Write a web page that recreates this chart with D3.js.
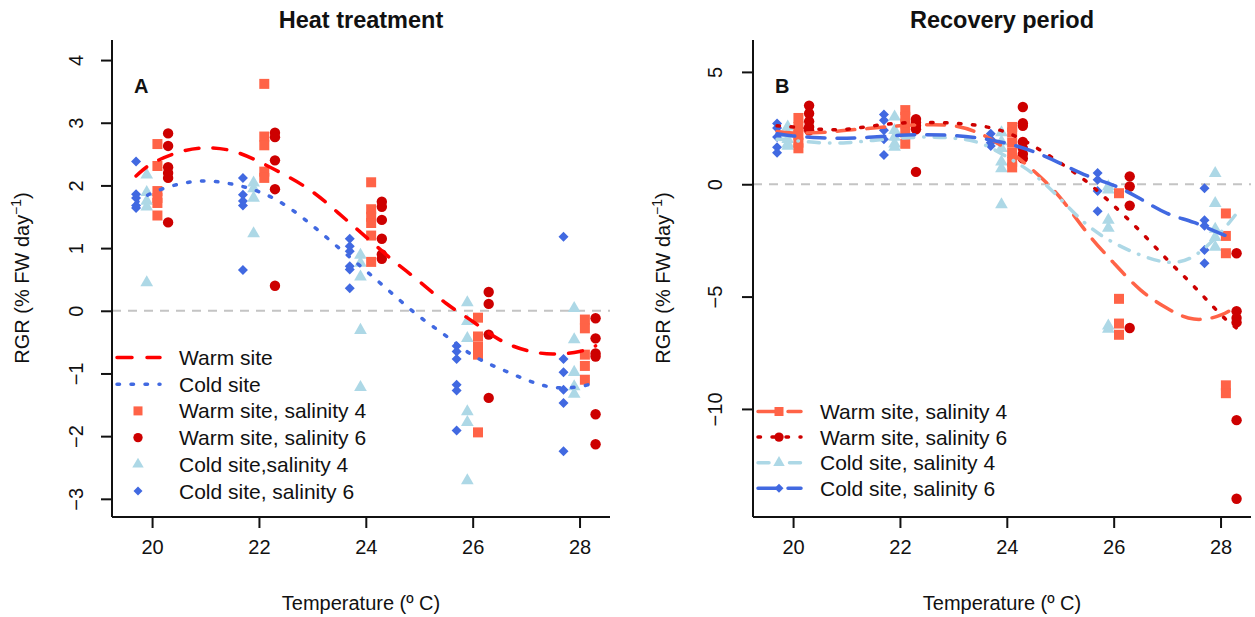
<!DOCTYPE html>
<html>
<head>
<meta charset="utf-8">
<script src="https://cdn.jsdelivr.net/npm/d3@7"></script>
<style>
  body { margin: 0; background: #fff; }
  svg { font-family: 'Liberation Sans', Arial, sans-serif; }
</style>
</head>
<body>
<div id="chart"></div>
<script>
// temperatures of the treatments
const temps = [20, 22, 24, 26, 28];
// temperature grid for the fitted curves
const fitTemps = [19.7, 20, 20.5, 21, 21.5, 22, 22.5, 23, 23.5, 24, 24.5, 25, 25.5, 26, 26.5, 27, 27.5, 28, 28.3];

// Heat treatment (panel A), one sub-array per temperature
const heatWarm4 = [[2.66, 2.31, 1.91, 1.80, 1.72, 1.52], [3.62, 2.78, 2.64, 2.22, 2.12], [2.05, 1.62, 1.50, 1.40, 1.20, 0.78], [-0.11, -0.41, -0.57, -0.70, -1.94], [-0.14, -0.28, -0.70, -0.88, -1.10]];
const heatWarm6 = [[2.83, 2.63, 2.29, 2.20, 2.12, 1.41], [2.84, 2.77, 2.40, 1.94, 0.40], [1.74, 1.66, 1.45, 1.15, 0.90, 0.83], [0.30, 0.11, -0.38, -1.39], [-0.12, -0.44, -0.68, -0.73, -1.65, -2.13]];
const heatCold4 = [[2.17, 1.89, 1.75, 1.66, 0.45], [2.04, 1.95, 1.80, 1.23], [0.89, 0.76, 0.54, -0.31, -1.22], [0.13, -0.17, -0.44, -1.61, -1.78, -2.71], [0.04, -0.46, -0.98, -1.21, -1.33]];
const heatCold6 = [[2.38, 1.86, 1.80, 1.68, 1.64], [2.12, 1.85, 1.75, 1.68, 0.65], [1.15, 1.03, 0.95, 0.71, 0.66, 0.36], [-0.56, -0.65, -0.77, -1.18, -1.27, -1.91], [1.18, -0.77, -0.98, -1.26, -1.47, -2.24]];
const heatFitWarm = [2.15, 2.35, 2.53, 2.60, 2.55, 2.38, 2.16, 1.90, 1.55, 1.18, 0.81, 0.47, 0.12, -0.17, -0.46, -0.63, -0.69, -0.65, -0.56];
const heatFitCold = [1.72, 1.88, 2.02, 2.07, 2.02, 1.90, 1.68, 1.36, 1.00, 0.64, 0.27, -0.09, -0.40, -0.71, -0.92, -1.10, -1.22, -1.21, -1.14];

// Recovery period (panel B)
const recWarm4 = [[2.95, 2.55, 2.2, 1.85, 1.6], [3.3, 3.0, 2.7, 2.3, 1.8], [2.55, 2.3, 1.85, 1.4, 1.0, 0.75], [-0.4, -5.1, -6.2, -6.7], [-1.3, -2.3, -3.07, -8.95, -9.3]];
const recWarm6 = [[3.5, 3.15, 2.8, 2.55, 2.4], [2.9, 2.75, 2.6, 2.45, 0.55], [3.44, 2.72, 2.6, 1.88, 1.6, 1.35, 1.15], [0.35, -0.1, -0.95, -6.4], [-3.07, -5.65, -5.95, -6.15, -10.5, -14.0]];
const recCold4 = [[2.55, 2.25, 2.0, 1.8, 1.7], [3.0, 2.4, 2.1, 1.8, 1.65], [2.3, 1.9, 1.6, 1.0, 0.7, -0.9], [-0.1, -0.25, -1.6, -1.95, -6.3, -6.45], [0.49, -0.85, -2.0, -2.36, -2.8]];
const recCold6 = [[2.7, 2.5, 2.1, 1.65, 1.4], [3.1, 2.85, 2.4, 2.0, 1.3], [2.25, 2.0, 1.85, 1.7], [0.5, 0.2, -0.3, -1.2], [-0.18, -1.6, -1.85, -2.93, -3.52]];
const recFitWarm4 = [2.35, 2.28, 2.30, 2.40, 2.50, 2.60, 2.65, 2.60, 2.25, 1.55, 0.60, -0.60, -2.15, -3.50, -4.70, -5.52, -6.00, -5.83, -5.40];
const recFitWarm6 = [2.60, 2.55, 2.45, 2.45, 2.60, 2.72, 2.75, 2.72, 2.60, 2.30, 1.70, 0.95, 0.10, -0.95, -2.10, -3.35, -4.54, -5.79, -6.40];
const recFitCold4 = [2.00, 1.95, 1.85, 1.85, 1.95, 2.05, 2.10, 2.05, 1.83, 1.22, 0.45, -0.65, -1.80, -2.60, -3.15, -3.47, -3.20, -2.15, -1.30];
const recFitCold6 = [2.25, 2.15, 2.07, 2.05, 2.10, 2.18, 2.20, 2.17, 2.05, 1.82, 1.45, 0.93, 0.38, -0.05, -0.65, -1.30, -1.70, -2.20, -2.40];

const xTicks = [20, 22, 24, 26, 28];
const heatYTicks = [-3, -2, -1, 0, 1, 2, 3, 4];
const recYTicks = [-10, -5, 0, 5];

const colors = { warm4: '#FF6347', warm6: '#CD0000', cold4: '#ADD8E6', cold6: '#4169E1', red: '#FF0000' };
const dashes = {
  dashed: '14,14',
  dotted: '2.5,11.5',
  longdash: '18,12',
  dotdash: '11,10,0.5,10'
};

const svg = d3.select('#chart').append('svg').attr('width', 1255).attr('height', 617);

function marker(shape) {
  if (shape === 'square') return d3.symbol().type(d3.symbolSquare).size(100)();
  if (shape === 'circle') return d3.symbol().type(d3.symbolCircle).size(85)();
  if (shape === 'triangle') return d3.symbol().type(d3.symbolTriangle).size(70)();
  return d3.symbol().type(d3.symbolSquare).size(50)();
}
function markerRot(shape) { return shape === 'diamond' ? ' rotate(45)' : ''; }

function drawPanel(p) {
  const x = d3.scaleLinear().domain([19.25, 28.57]).range([p.left, p.left + 498]);
  const y = d3.scaleLinear().domain(p.yDomain).range([517, 40]);
  const g = svg.append('g');

  // zero reference line
  g.append('line')
    .attr('x1', x.range()[0]).attr('x2', x.range()[1])
    .attr('y1', y(0)).attr('y2', y(0))
    .attr('stroke', '#c4c4c4').attr('stroke-width', 2).attr('stroke-dasharray', '9,7');

  // points
  p.groups.forEach((grp) => {
    temps.forEach((t, i) => {
      grp.values[i].forEach((v) => {
        g.append('path')
          .attr('d', marker(grp.shape))
          .attr('transform', `translate(${x(t + grp.offset)},${y(v)})${markerRot(grp.shape)}`)
          .attr('fill', grp.color);
      });
    });
  });

  // fitted curves
  const line = d3.line().x((d) => x(d[0])).y((d) => y(d[1])).curve(d3.curveNatural);
  p.curves.forEach((c) => {
    g.append('path')
      .attr('d', line(fitTemps.map((t, i) => [t, c.values[i]])))
      .attr('fill', 'none')
      .attr('stroke', c.color)
      .attr('stroke-width', 3.5)
      .attr('stroke-linecap', 'round')
      .attr('stroke-dasharray', c.dash);
  });

  // axes
  const xAxis = g.append('g').attr('transform', 'translate(0,517)')
    .call(d3.axisBottom(x).tickValues(xTicks).tickSize(11).tickPadding(12).tickSizeOuter(0));
  const yAxis = g.append('g').attr('transform', `translate(${p.left},0)`)
    .call(d3.axisLeft(y).tickValues(p.yTicks).tickSize(11).tickSizeOuter(0).tickFormat(d3.format('d')));
  [xAxis, yAxis].forEach((a) => {
    a.select('.domain').attr('stroke', '#111').attr('stroke-width', 2);
    a.selectAll('.tick line').attr('stroke', '#111').attr('stroke-width', 2);
    a.selectAll('.tick text').attr('font-size', 20).attr('fill', '#111')
      .attr('font-family', "'Liberation Sans', Arial, sans-serif");
  });
  xAxis.select('.domain').attr('d', `M${x.range()[0]},0H${x.range()[1]}`);
  yAxis.select('.domain').attr('d', 'M0,517V40');
  yAxis.selectAll('.tick text')
    .attr('x', 0).attr('dy', 0)
    .attr('text-anchor', 'middle')
    .attr('transform', `translate(${p.labelShift},0) rotate(-90)`);

  // titles
  const cx = p.left + 249;
  g.append('text').attr('x', cx).attr('y', 28).attr('text-anchor', 'middle')
    .attr('font-size', 23.5).attr('font-weight', 'bold').attr('fill', '#111').text(p.title);
  g.append('text').attr('x', p.left + 22).attr('y', 93)
    .attr('font-size', 20).attr('font-weight', 'bold').attr('fill', '#111').text(p.letter);
  g.append('text').attr('x', cx).attr('y', 610).attr('text-anchor', 'middle')
    .attr('font-size', 20).attr('fill', '#111').text('Temperature (º C)');
  const yl = g.append('text')
    .attr('transform', `translate(${p.left - 83},278) rotate(-90)`)
    .attr('text-anchor', 'middle').attr('font-size', 20).attr('fill', '#111');
  yl.append('tspan').text('RGR (% FW day');
  yl.append('tspan').attr('font-size', 14).attr('dy', -8).text('−1');
  yl.append('tspan').attr('dy', 8).text(')');

  // legend
  p.legend.forEach((row, i) => {
    const ly = p.legendY + i * p.legendStep;
    if (row.dash) {
      g.append('line')
        .attr('x1', p.left + 5).attr('x2', p.left + 48).attr('y1', ly).attr('y2', ly)
        .attr('stroke', row.color).attr('stroke-width', 3.5)
        .attr('stroke-linecap', 'round').attr('stroke-dasharray', row.dash);
    }
    if (row.shape) {
      g.append('path').attr('d', marker(row.shape))
        .attr('transform', `translate(${p.left + 26},${ly})${markerRot(row.shape)} scale(0.9)`)
        .attr('fill', row.color);
    }
    g.append('text').attr('x', p.left + 67).attr('y', ly).attr('dy', '0.36em')
      .attr('font-size', 21).attr('fill', '#111').text(row.label);
  });
}

drawPanel({
  left: 112,
  labelShift: -29,
  yDomain: [-3.29, 4.32],
  yTicks: heatYTicks,
  title: 'Heat treatment',
  letter: 'A',
  groups: [
    { values: heatCold6, shape: 'diamond', color: colors.cold6, offset: -0.3 },
    { values: heatCold4, shape: 'triangle', color: colors.cold4, offset: -0.1 },
    { values: heatWarm4, shape: 'square', color: colors.warm4, offset: 0.1 },
    { values: heatWarm6, shape: 'circle', color: colors.warm6, offset: 0.3 }
  ],
  curves: [
    { values: heatFitWarm, color: colors.red, dash: dashes.dashed },
    { values: heatFitCold, color: colors.cold6, dash: dashes.dotted }
  ],
  legendY: 357.5,
  legendStep: 26.7,
  legend: [
    { label: 'Warm site', color: colors.red, dash: '15,15' },
    { label: 'Cold site', color: colors.cold6, dash: dashes.dotted },
    { label: 'Warm site, salinity 4', color: colors.warm4, shape: 'square' },
    { label: 'Warm site, salinity 6', color: colors.warm6, shape: 'circle' },
    { label: 'Cold site,salinity 4', color: colors.cold4, shape: 'triangle' },
    { label: 'Cold site, salinity 6', color: colors.cold6, shape: 'diamond' }
  ]
});

drawPanel({
  left: 753,
  labelShift: -31,
  yDomain: [-14.81, 6.42],
  yTicks: recYTicks,
  title: 'Recovery period',
  letter: 'B',
  groups: [
    { values: recCold6, shape: 'diamond', color: colors.cold6, offset: -0.3 },
    { values: recCold4, shape: 'triangle', color: colors.cold4, offset: -0.1 },
    { values: recWarm4, shape: 'square', color: colors.warm4, offset: 0.1 },
    { values: recWarm6, shape: 'circle', color: colors.warm6, offset: 0.3 }
  ],
  curves: [
    { values: recFitWarm4, color: colors.warm4, dash: dashes.longdash },
    { values: recFitWarm6, color: colors.warm6, dash: dashes.dotted },
    { values: recFitCold4, color: colors.cold4, dash: dashes.dotdash },
    { values: recFitCold6, color: colors.cold6, dash: dashes.longdash }
  ],
  legendY: 411.5,
  legendStep: 25.6,
  legend: [
    { label: 'Warm site, salinity 4', color: colors.warm4, shape: 'square', dash: '18,12' },
    { label: 'Warm site, salinity 6', color: colors.warm6, shape: 'circle', dash: dashes.dotted },
    { label: 'Cold site, salinity 4', color: colors.cold4, shape: 'triangle', dash: '11,10,0.5,10' },
    { label: 'Cold site, salinity 6', color: colors.cold6, shape: 'diamond', dash: '18,12' }
  ]
});
</script>
</body>
</html>
